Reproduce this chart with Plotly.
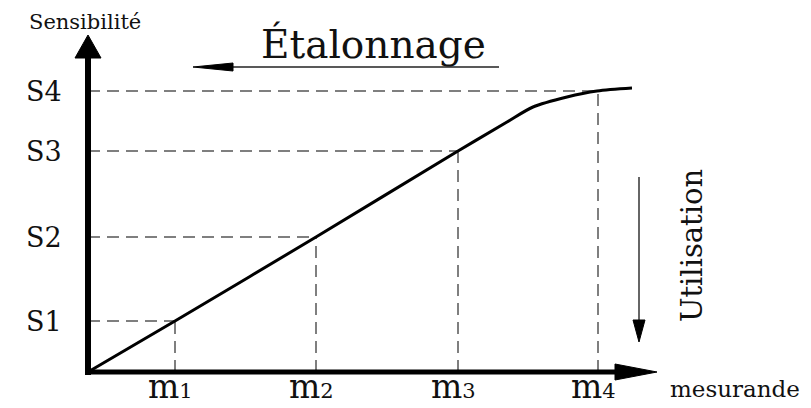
import plotly.graph_objects as go

# ---- data ----
m_labels = ["1", "2", "3", "4"]
m_values = [87, 228, 370, 510]
s_labels = ["S1", "S2", "S3", "S4"]
s_values = [51, 135, 221, 281]
curve_x = [0, 87, 228, 370, 419, 445, 479, 509, 544]
curve_y = [0, 51, 135, 221, 250, 265, 275, 281, 284]

# the page body has an 8px margin, so the figure is 8px smaller and the
# axes span the whole figure (1 data unit = 1 px, origin of the chart at 0,0)
PAGE_OFF = 8
FIG_W, FIG_H = 811 - PAGE_OFF, 408 - PAGE_OFF
ORIGIN_PX, ORIGIN_PY = 88, 372
X_RANGE = [PAGE_OFF - ORIGIN_PX, PAGE_OFF - ORIGIN_PX + FIG_W]
Y_RANGE = [ORIGIN_PY - 408, ORIGIN_PY - PAGE_OFF]
Y_TOP = 337
SERIF = "DejaVu Serif, Liberation Serif, serif"
TXT = "#111111"
DASH_COL = "#555555"

fig = go.Figure()

# dashed guide lines
for m, s in zip(m_values, s_values):
    fig.add_trace(go.Scatter(x=[0, m], y=[s, s], mode="lines",
                             line=dict(color=DASH_COL, width=1.5, dash="12px,7px"),
                             hoverinfo="skip", showlegend=False))
    fig.add_trace(go.Scatter(x=[m, m], y=[0, s], mode="lines",
                             line=dict(color=DASH_COL, width=1.5, dash="12px,7px"),
                             hoverinfo="skip", showlegend=False))

# calibration curve
fig.add_trace(go.Scatter(x=curve_x, y=curve_y, mode="lines",
                         line=dict(color="black", width=3, shape="spline", smoothing=0.8),
                         hoverinfo="skip", showlegend=False))

shapes = []
# axes
shapes.append(dict(type="line", xref="x", yref="y", x0=-3, y0=0, x1=530, y1=0,
                   line=dict(color="black", width=5)))
shapes.append(dict(type="path", xref="x", yref="y", xsizemode="pixel", ysizemode="pixel",
                   xanchor=569, yanchor=0, path="M0,0 L-42,8 L-42,-8 Z",
                   fillcolor="black", line=dict(color="black", width=1)))
shapes.append(dict(type="line", xref="x", yref="y", x0=0, y0=-3, x1=0, y1=316,
                   line=dict(color="black", width=6)))
shapes.append(dict(type="path", xref="x", yref="y", xsizemode="pixel", ysizemode="pixel",
                   xanchor=0, yanchor=Y_TOP, path="M0,0 L-13,-23 L13,-23 Z",
                   fillcolor="black", line=dict(color="black", width=1)))
# Etalonnage arrow (pointing left)
shapes.append(dict(type="line", xref="x", yref="y", x0=140, y0=305, x1=411, y1=305,
                   line=dict(color="#222222", width=1.5)))
shapes.append(dict(type="path", xref="x", yref="y", xsizemode="pixel", ysizemode="pixel",
                   xanchor=105, yanchor=305, path="M0,0 L40,4 L40,-4 Z",
                   fillcolor="black", line=dict(color="black", width=1)))
# Utilisation arrow (pointing down)
shapes.append(dict(type="line", xref="x", yref="y", x0=551, y0=195, x1=551, y1=48,
                   line=dict(color="#333333", width=1.5)))
shapes.append(dict(type="path", xref="x", yref="y", xsizemode="pixel", ysizemode="pixel",
                   xanchor=551, yanchor=30, path="M0,0 L-6,22 L6,22 Z",
                   fillcolor="black", line=dict(color="black", width=1)))

ann = []
for lab, s in zip(s_labels, s_values):
    ann.append(dict(x=0, y=s, xref="x", yref="y", text=lab, showarrow=False,
                    xanchor="right", yanchor="middle", xshift=-24,
                    font=dict(family=SERIF, size=27, color=TXT)))
for lab, m in zip(m_labels, m_values):
    ann.append(dict(x=m, y=Y_RANGE[0], xref="x", yref="y",
                    text="m<span style='font-size:21px'>" + lab + "</span>",
                    showarrow=False, xanchor="center", yanchor="bottom",
                    xshift=-5, yshift=0,
                    font=dict(family=SERIF, size=33, color=TXT)))
ann.append(dict(x=-3, y=350, xref="x", yref="y", text="Sensibilité", showarrow=False,
                xanchor="center", yanchor="middle",
                font=dict(family=SERIF, size=21, color=TXT)))
ann.append(dict(x=647, y=-17, xref="x", yref="y", text="mesurande", showarrow=False,
                xanchor="center", yanchor="middle",
                font=dict(family=SERIF, size=23, color=TXT)))
ann.append(dict(x=285, y=328, xref="x", yref="y", text="Étalonnage", showarrow=False,
                xanchor="center", yanchor="middle",
                font=dict(family=SERIF, size=39, color=TXT)))
ann.append(dict(x=604, y=126, xref="x", yref="y", text="Utilisation", showarrow=False,
                xanchor="center", yanchor="middle", textangle=-90,
                font=dict(family=SERIF, size=29, color=TXT)))

fig.update_layout(
    width=FIG_W, height=FIG_H,
    margin=dict(l=0, r=0, t=0, b=0, pad=0),
    paper_bgcolor="white", plot_bgcolor="white",
    xaxis=dict(range=X_RANGE, visible=False, fixedrange=True),
    yaxis=dict(range=Y_RANGE, visible=False, fixedrange=True),
    shapes=shapes, annotations=ann, showlegend=False,
)

fig.write_html("out.html")
